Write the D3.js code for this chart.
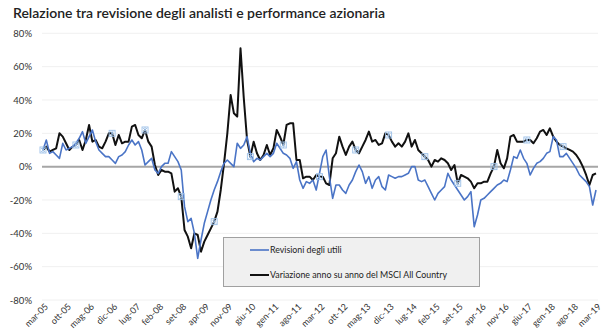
<!DOCTYPE html>
<html>
<head>
<meta charset="utf-8">
<script src="https://cdn.jsdelivr.net/npm/d3@7/dist/d3.min.js"></script>
<style>
  html, body { margin: 0; padding: 0; background: #fff; }
  svg { display: block; }
  text { font-family: Lato, "Open Sans", sans-serif; }
</style>
</head>
<body>
<svg id="chart" width="602" height="336"></svg>
<script>
// Monthly series, mar-05 .. mar-19 (169 months)
const monthNames = ["gen","feb","mar","apr","mag","giu","lug","ago","set","ott","nov","dic"];
const months = d3.range(169).map(i => {
  const m = (2 + i) % 12, y = 5 + Math.floor((2 + i) / 12);
  return monthNames[m] + "-" + String(y).padStart(2, "0");
});

// Revisioni degli utili (%)
const revisioni = [
  10, 16, 8, 9, 7, 5, 14, 10, 11, 12,
  14, 17, 21, 14, 18, 22, 15, 10, 8, 6,
  6, 4, 2, 6, 7, 9, 13, 16, 13, 15,
  10, 1, 3, 5, -2, -4, 0, 2, 2, 9,
  6, 3, -2, -24, -33, -31, -40, -55, -44, -34,
  -27, -20, -14, -9, -3, 2, 4, 2, 0, 14,
  11, 13, 18, 8, 3, 5, 4, 6, 8, 6,
  8, 14, 11, 8, 7, 5, -1, 3, -8, -13,
  -9, -10, -8, -14, -4, 6, 10, -6, -19, -11,
  -11, -14, -16, -11, -8, -3, 1, -3, -10, -6,
  -13, -8, -6, -12, -14, -5, -6, -7, -6, -6,
  -5, -4, 0, 0, -8, -9, -8, -12, -16, -20,
  -16, -14, -12, -4, -8, -11, -14, -17, -20, -18,
  -15, -36, -29, -20, -19, -17, -15, -13, -11, -10,
  -8, -9, -2, 6, 5, 10, 5, 2, -5, -1,
  2, 3, 5, 8, 9, 18, 16, 6, 6, 8,
  5, 2, -1, -5, -7, -9, -12, -23, -14
];

// Variazione anno su anno del MSCI All Country (%)
const msci = [
  10, 12, 9, 10, 11, 20, 18, 14, 10, 12,
  13, 16, 10, 16, 25, 15, 16, 12, 11, 15,
  20, 20, 13, 19, 14, 15, 15, 24, 25, 19,
  17, 22, 15, 12, 1, -5, -2, -3, -3, -4,
  -15, -13, -18, -38, -42, -49, -40, -41, -51, -45,
  -41, -37, -33, -27, -14, 2, 20, 43, 32, 30,
  71, 41, 16, 6, 15, 8, 4, 7, 13, 7,
  11, 22, 18, 13, 25, 26, 26, 4, 4, -7,
  -6, -6, -8, -5, -6, -6, -10, -11, 5, 8,
  18, 12, 7, 12, 15, 10, 8, 12, 16, 21,
  15, 16, 13, 14, 20, 19, 15, 12, 14, 12,
  15, 20, 12, 16, 10, 8, 6, 4, 0, 4,
  3, 5, 4, 2, -2, 1, -10, -5, -6, -7,
  -9, -13, -10, -10, -9, -9, -4, 0, 10, 2,
  -1, 5, 18, 19, 15, 15, 15, 16, 16, 14,
  17, 21, 22, 19, 23, 18, 15, 13, 12, 11,
  10, 9, 7, 4, 0, -5, -11, -5, -4
];

// Months carrying a point marker on the MSCI line
const markerMonths = [0, 10, 21, 31, 42, 52, 63, 73, 84, 95, 105, 116, 126, 137, 147, 158];

const yTicks = [80, 60, 40, 20, 0, -20, -40, -60, -80];
const xTickLabels = ["mar-05","ott-05","mag-06","dic-06","lug-07","feb-08","set-08","apr-09",
  "nov-09","giu-10","gen-11","ago-11","mar-12","ott-12","mag-13","dic-13","lug-14","feb-15",
  "set-15","apr-16","nov-16","giu-17","gen-18","ago-18","mar-19"];

const seriesNames = ["Revisioni degli utili", "Variazione anno su anno del MSCI All Country"];

const svg = d3.select("#chart");

const x = d3.scalePoint().domain(months).range([43, 596]);
const y = d3.scaleLinear().domain([-80, 80]).range([300, 33.3]);

// Title
svg.append("text")
  .attr("x", 13).attr("y", 18)
  .attr("font-size", 14).attr("font-weight", 600)
  .attr("fill", "#222")
  .text("Relazione tra revisione degli analisti e performance azionaria");

// Horizontal grid
svg.append("g").selectAll("line").data(yTicks.filter(d => d !== 0)).join("line")
  .attr("x1", 42).attr("x2", 598)
  .attr("y1", d => y(d)).attr("y2", d => y(d))
  .attr("stroke", "#f0f0f0").attr("stroke-width", 1);

// Y axis labels
const yAxis = d3.axisLeft(y).tickValues(yTicks).tickSize(0).tickPadding(0)
  .tickFormat(d => d + "%");
const gy = svg.append("g").attr("transform", "translate(32,0)").call(yAxis);
gy.select(".domain").remove();
gy.selectAll("text").attr("font-size", 9.5).attr("fill", "#333")
  .style("font-family", "Lato, sans-serif");

// Zero line
svg.append("line")
  .attr("x1", 42).attr("x2", 598)
  .attr("y1", y(0)).attr("y2", y(0))
  .attr("stroke", "#a6a6a6").attr("stroke-width", 2);

// X axis labels
const xAxis = d3.axisBottom(x).tickValues(xTickLabels).tickSize(0).tickPadding(0);
const gx = svg.append("g").attr("transform", "translate(0,305)").call(xAxis);
gx.select(".domain").remove();
gx.selectAll("text")
  .attr("font-size", 9).attr("fill", "#333")
  .style("font-family", "Lato, sans-serif")
  .attr("text-anchor", "end")
  .attr("dy", "0.35em").attr("y", 0)
  .attr("transform", "translate(3,0) rotate(-45)");

// Lines
const line = d3.line().x((d, i) => x(months[i])).y(d => y(d));

svg.append("path").datum(msci)
  .attr("fill", "none").attr("stroke", "#111").attr("stroke-width", 2)
  .attr("stroke-linejoin", "round")
  .attr("d", line);

svg.append("path").datum(revisioni)
  .attr("fill", "none").attr("stroke", "#4a74c6").attr("stroke-width", 1.6)
  .attr("stroke-linejoin", "round")
  .attr("d", line);

// Point markers
const mk = svg.append("g").selectAll("g").data(markerMonths).join("g")
  .attr("transform", i => `translate(${x(months[i])},${y(msci[i])})`)
  .attr("stroke", "#9cc0e8").attr("stroke-width", 0.9).attr("fill", "none");
mk.append("rect").attr("x", -3).attr("y", -3).attr("width", 6).attr("height", 6);
mk.append("path").attr("d", "M-2,-2L2,2M-2,2L2,-2M0,-3V3");

// Legend
const lg = svg.append("g");
lg.append("rect")
  .attr("x", 223.5).attr("y", 237.5).attr("width", 256).attr("height", 49)
  .attr("fill", "#f0f0f0").attr("stroke", "#a0a0a0").attr("stroke-width", 1);
const colors = ["#4a74c6", "#111"];
seriesNames.forEach((name, k) => {
  const ly = 250 + k * 25;
  lg.append("line").attr("x1", 250).attr("x2", 269).attr("y1", ly).attr("y2", ly)
    .attr("stroke", colors[k]).attr("stroke-width", k === 0 ? 1.6 : 2);
  lg.append("text").attr("x", 270).attr("y", ly).attr("dy", "0.35em")
    .attr("font-size", 8.8).attr("fill", "#222").text(name);
});
</script>
</body>
</html>
